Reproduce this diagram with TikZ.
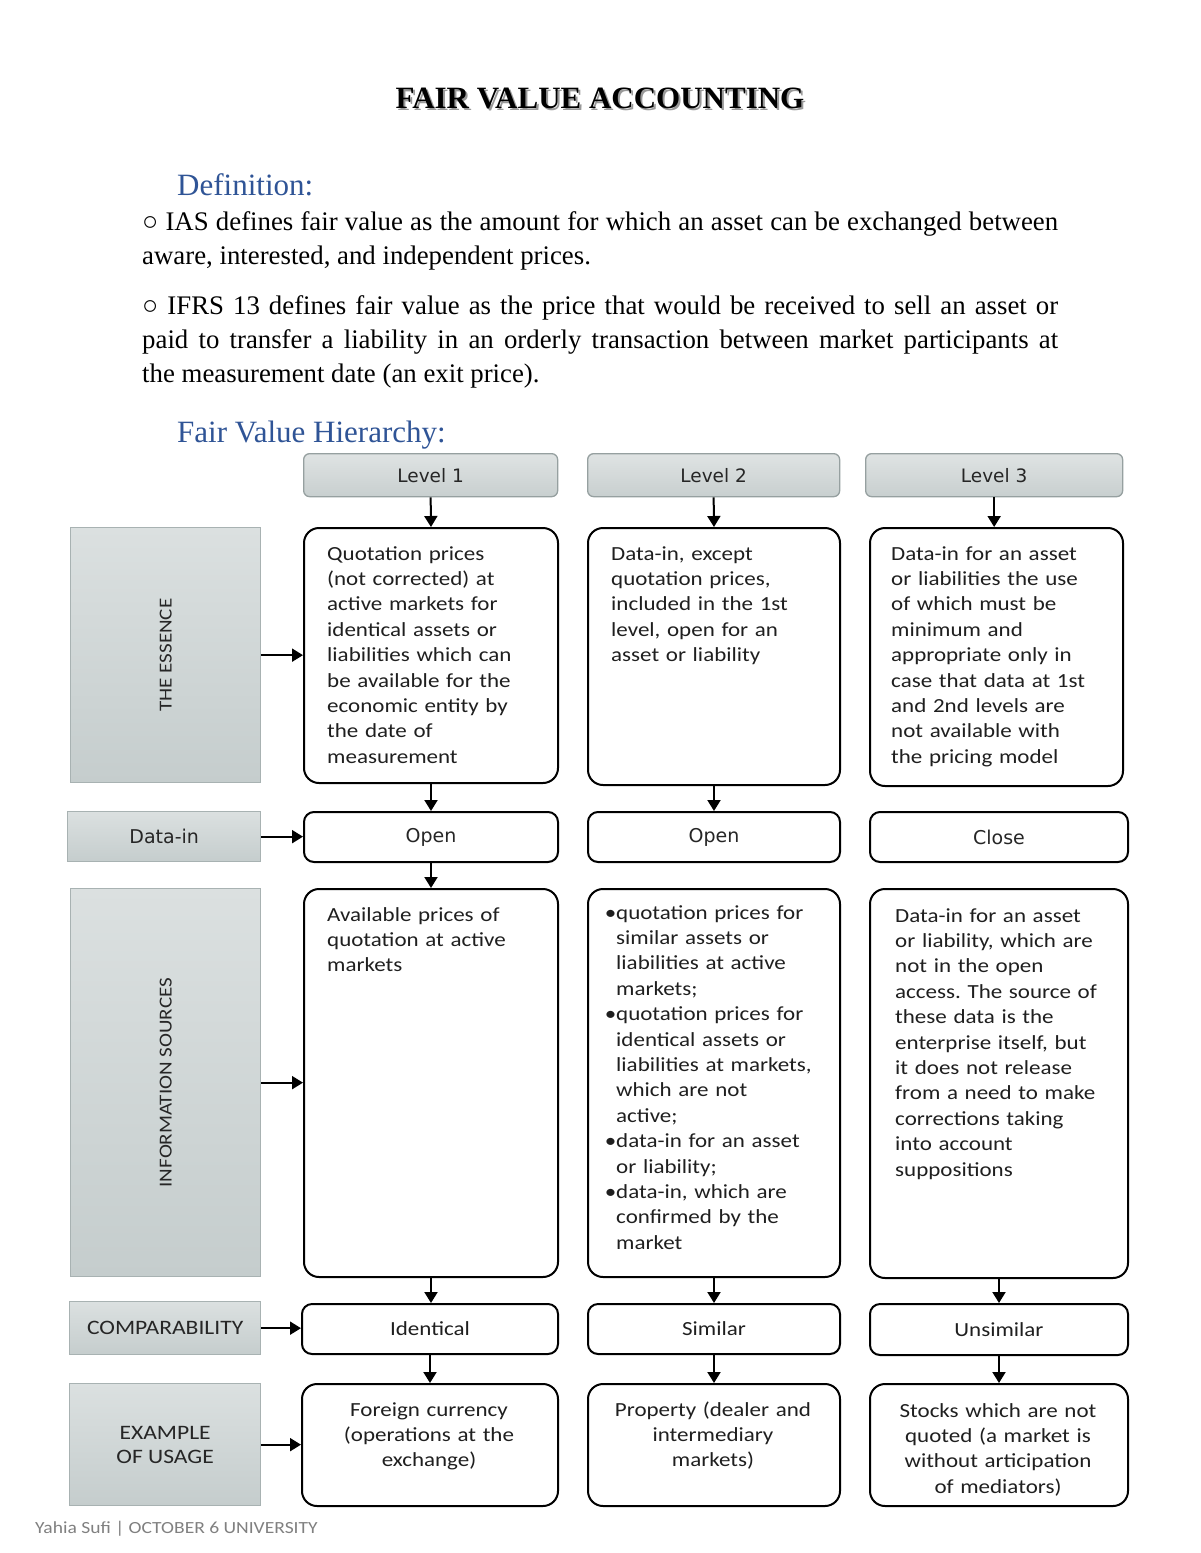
\documentclass[tikz,border=0pt]{standalone}
\usepackage{fontspec}
\setmainfont{Liberation Serif}
\newfontfamily\calfont[FakeStretch=1.15]{Carlito}
\newfontfamily\dvfont{DejaVu Sans}
\usetikzlibrary{arrows.meta}
\definecolor{hblue}{RGB}{47,84,150}
\definecolor{gtop}{RGB}{219,224,224}
\definecolor{gbot}{RGB}{197,205,205}
\definecolor{gborder}{RGB}{168,178,178}
\definecolor{ltop}{RGB}{223,227,227}
\definecolor{lbot}{RGB}{200,207,207}
\definecolor{lborder}{RGB}{150,160,160}
\definecolor{footgray}{RGB}{128,128,128}
\newcommand{\bul}{\leavevmode\llap{•}}
\frenchspacing
\tikzset{
  gbox/.style={draw=gborder, line width=1.3pt, top color=gtop, bottom color=gbot, anchor=north west, inner sep=0pt},
  lvbox/.style={draw=lborder, line width=1.3pt, top color=ltop, bottom color=lbot, rounded corners=6pt, anchor=north west, inner sep=0pt, font=\dvfont\fontsize{18.5}{22}\selectfont, text=black!85},
  wbox/.style={draw=black, line width=2pt, rounded corners=15pt, fill=white, anchor=north west, inner sep=0pt},
  dvtxt/.style={font=\dvfont\fontsize{19}{23}\selectfont, text=black!85},
  cltxt/.style={font=\calfont\fontsize{20}{25.4}\selectfont, text=black!88},
  btxt/.style={anchor=base west, inner sep=0pt, align=left, text width=250pt, font=\calfont\fontsize{20}{25.4}\selectfont\frenchspacing, text=black!88},
  ctxt/.style={anchor=base, inner sep=0pt, align=center, text width=250pt, font=\calfont\fontsize{20}{25.4}\selectfont, text=black!88},
  rlab/.style={rotate=90, font=\calfont\fontsize{18.3}{22}\selectfont, text=black!85},
  glab/.style={font=\calfont\fontsize{20.5}{25}\selectfont, text=black!85, align=center},
  arr/.style={draw=black, line width=2pt, -{Triangle[length=11pt,width=13pt]}},
  body/.style={anchor=base west, inner sep=0pt, font=\fontsize{26.8}{34}\selectfont},
  head/.style={anchor=base west, inner sep=0pt, font=\fontsize{31}{36}\selectfont, text=hblue}
}
\begin{document}
\begin{tikzpicture}[x=1pt,y=-1pt]
\useasboundingbox (0,0) rectangle (1200,1553);
\fill[white] (0,0) rectangle (1200,1553);

% title
\node[anchor=base, inner sep=0pt, font=\bfseries\fontsize{31}{36}\selectfont, text=black!40] (titsh) at (602,110) {FAIR VALUE ACCOUNTING};
\node[anchor=base, inner sep=0pt, font=\bfseries\fontsize{31}{36}\selectfont] (title) at (600,108) {FAIR VALUE ACCOUNTING};

% definition
\node[head] (defh) at (177,195) {Definition:};
\node[body] (p1a) at (142,230) {\makebox[916pt][s]{○ IAS defines fair value as the amount for which an asset can be exchanged between}};
\node[body] (p1b) at (142,264) {aware, interested, and independent prices.};
\node[body] (p2a) at (142,314) {\makebox[916pt][s]{○ IFRS 13 defines fair value as the price that would be received to sell an asset or}};
\node[body] (p2b) at (142,348) {\makebox[916pt][s]{paid to transfer a liability in an orderly transaction between market participants at}};
\node[body] (p2c) at (142,382) {the measurement date (an exit price).};
\node[head] (hierh) at (177,442) {Fair Value Hierarchy:};

% level boxes
\node[lvbox, minimum width=254pt, minimum height=43pt] (lv1) at (303,453) {Level 1};
\node[lvbox, minimum width=252pt, minimum height=43pt] (lv2) at (587,453) {Level 2};
\node[lvbox, minimum width=257pt, minimum height=43pt] (lv3) at (865,453) {Level 3};

% left gray boxes
\node[gbox, minimum width=190pt, minimum height=255pt] (gess) at (70,527) {};
\node[rlab] (gesst) at (gess.center) {THE ESSENCE};
\node[gbox, minimum width=193pt, minimum height=50pt, dvtxt] (gdat) at (67,811) {Data-in};
\node[gbox, minimum width=190pt, minimum height=388pt] (ginf) at (70,888) {};
\node[rlab] (ginft) at (ginf.center) {INFORMATION SOURCES};
\node[gbox, minimum width=191pt, minimum height=53pt, glab] (gcmp) at (69,1301) {COMPARABILITY};
\node[gbox, minimum width=191pt, minimum height=122pt, glab] (gex) at (69,1383) {EXAMPLE\\[-1pt]OF USAGE};

% essence row
\node[wbox, minimum width=254pt, minimum height=255pt] (e1) at (303,527) {};
\node[wbox, minimum width=252pt, minimum height=257pt] (e2) at (587,527) {};
\node[wbox, minimum width=253pt, minimum height=258pt] (e3) at (869,527) {};
\node[btxt] (e1t) at (327,560) {Quotation prices\\(not corrected) at\\active markets for\\identical assets or\\liabilities which can\\be available for the\\economic entity by\\the date of\\measurement};
\node[btxt] (e2t) at (611,560) {Data-in, except\\quotation prices,\\included in the 1st\\level, open for an\\asset or liability};
\node[btxt] (e3t) at (891,560) {Data-in for an asset\\or liabilities the use\\of which must be\\minimum and\\appropriate only in\\case that data at 1st\\and 2nd levels are\\not available with\\the pricing model};

% data-in row
\node[wbox, rounded corners=10pt, minimum width=254pt, minimum height=50pt, dvtxt] (d1) at (303,811) {Open};
\node[wbox, rounded corners=10pt, minimum width=252pt, minimum height=50pt, dvtxt] (d2) at (587,811) {Open};
\node[wbox, rounded corners=10pt, minimum width=258pt, minimum height=50pt, dvtxt] (d3) at (869,811) {Close};

% info row
\node[wbox, minimum width=254pt, minimum height=388pt] (i1) at (303,888) {};
\node[wbox, minimum width=252pt, minimum height=388pt] (i2) at (587,888) {};
\node[wbox, minimum width=258pt, minimum height=389pt] (i3) at (869,888) {};
\node[btxt] (i1t) at (327,921) {Available prices of\\quotation at active\\markets};
\node[btxt] (i2t) at (616,919) {\bul quotation prices for\\similar assets or\\liabilities at active\\markets;\\\bul quotation prices for\\identical assets or\\liabilities at markets,\\which are not\\active;\\\bul data-in for an asset\\or liability;\\\bul data-in, which are\\confirmed by the\\market};
\node[btxt] (i3t) at (895,922) {Data-in for an asset\\or liability, which are\\not in the open\\access. The source of\\these data is the\\enterprise itself, but\\it does not release\\from a need to make\\corrections taking\\into account\\suppositions};

% comparability row
\node[wbox, rounded corners=10pt, minimum width=256pt, minimum height=50pt, cltxt] (c1) at (301,1303) {Identical};
\node[wbox, rounded corners=10pt, minimum width=252pt, minimum height=50pt, cltxt] (c2) at (587,1303) {Similar};
\node[wbox, rounded corners=10pt, minimum width=258pt, minimum height=51pt, cltxt] (c3) at (869,1303) {Unsimilar};

% example row
\node[wbox, minimum width=256pt, minimum height=122pt] (x1) at (301,1383) {};
\node[wbox, minimum width=252pt, minimum height=122pt] (x2) at (587,1383) {};
\node[wbox, minimum width=258pt, minimum height=122pt] (x3) at (869,1383) {};
\node[ctxt] (x1t) at (429,1416) {Foreign currency\\(operations at the\\exchange)};
\node[ctxt] (x2t) at (713,1416) {Property (dealer and\\intermediary\\markets)};
\node[ctxt] (x3t) at (998,1417) {Stocks which are not\\quoted (a market is\\without articipation\\of mediators)};

% vertical arrows
\draw[arr] (lv1.south) -- (e1.north);
\draw[arr] (lv2.south) -- (e2.north);
\draw[arr] (lv3.south) -- (lv3.south |- e3.north);
\draw[arr] (e1.south) -- (d1.north);
\draw[arr] (e2.south) -- (d2.north);
\draw[arr] (d1.south) -- (i1.north);
\draw[arr] (i1.south) -- (i1.south |- c1.north);
\draw[arr] (i2.south) -- (c2.north);
\draw[arr] (i3.south) -- (c3.north);
\draw[arr] (c1.south) -- (c1.south |- x1.north);
\draw[arr] (c2.south) -- (x2.north);
\draw[arr] (c3.south) -- (x3.north);

% horizontal arrows
\draw[arr] (gess.east) -- (gess.east -| e1.west);
\draw[arr] (gdat.east) -- (gdat.east -| d1.west);
\draw[arr] (ginf.east) -- (ginf.east -| i1.west);
\draw[arr] (gcmp.east) -- (gcmp.east -| c1.west);
\draw[arr] (gex.east) -- (gex.east -| x1.west);

% footer
\node[anchor=base west, inner sep=0pt, font=\calfont\fontsize{17}{20}\selectfont, text=footgray] (foot) at (35,1533) {Yahia Sufi | OCTOBER 6 UNIVERSITY};
\end{tikzpicture}
\end{document}
